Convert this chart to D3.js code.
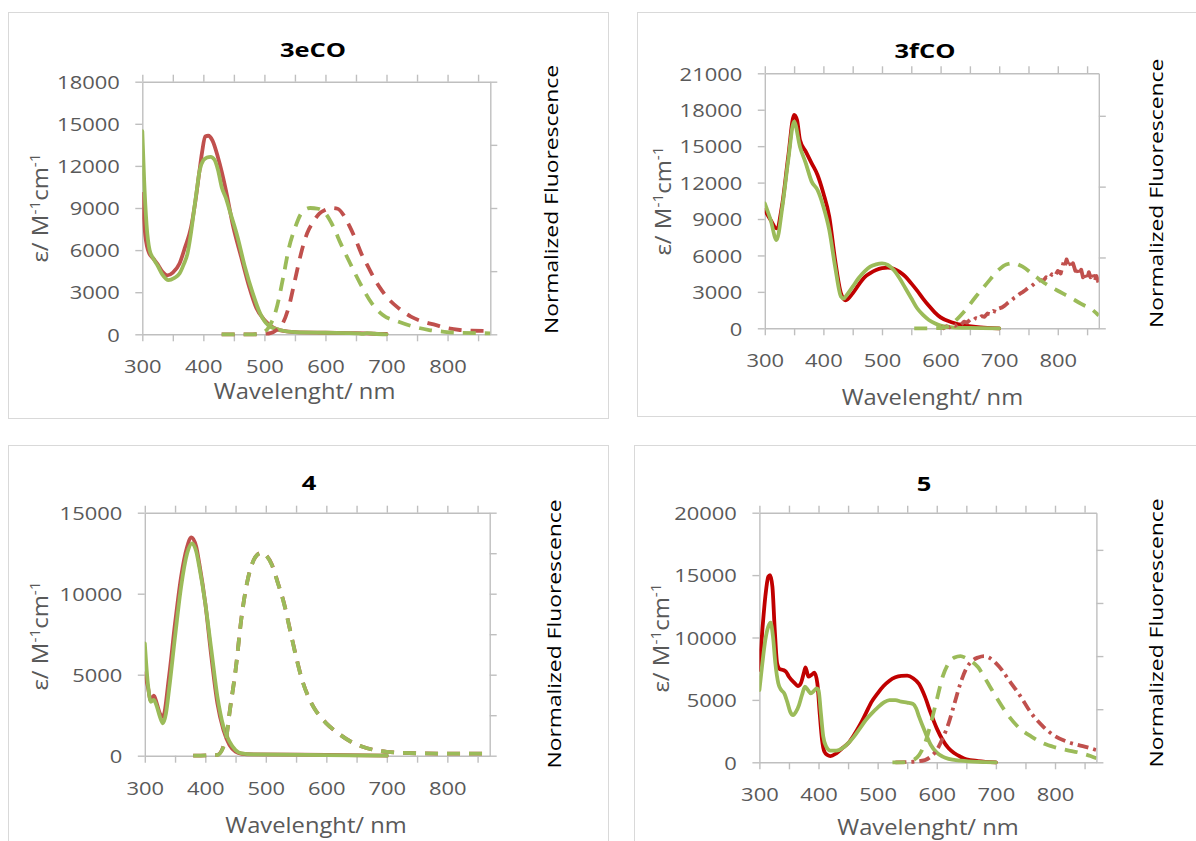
<!DOCTYPE html>
<html>
<head>
<meta charset="utf-8">
<script src="https://cdn.jsdelivr.net/npm/d3@7"></script>
<style>
  html, body { margin: 0; padding: 0; background: #ffffff; }
  svg { display: block; }
  text { font-family: "Open Sans", "Liberation Sans", sans-serif; }
</style>
</head>
<body>
<svg id="chart" width="1196" height="841"></svg>
<script>
// ---------- titles and axis ticks ----------
const panelTitles = ["3eCO", "3fCO", "4", "5"];
const xTickValues = [300, 350, 400, 450, 500, 550, 600, 650, 700, 750, 800, 850];
const xTickLabels = [300, 400, 500, 600, 700, 800];
const yTicks3eCO = [0, 3000, 6000, 9000, 12000, 15000, 18000];
const yTicks3fCO = [0, 3000, 6000, 9000, 12000, 15000, 18000, 21000];
const yTicks4 = [0, 5000, 10000, 15000];
const yTicks5 = [0, 5000, 10000, 15000, 20000];
const flTicks3eCO = [0, 0.5, 1, 1.5, 2];
const flTicks3fCO = [0, 1, 2, 3];
const flTicks4 = [0, 0.2, 0.4, 0.6, 0.8, 1, 1.2];
const flTicks5 = [0, 0.5, 1, 1.5, 2];

// ---------- 3eCO: absorption (ε) and normalized emission ----------
const absRed3eCO = [[300,10000],[305,7000],[311,5800],[318,5400],[325,5000],[333,4450],[341,4200],[350,4400],[361,5050],[370,6200],[380,7650],[387,9500],[393,11440],[398,13000],[403,14100],[408,14150],[415,13800],[424,12600],[430,11600],[437,10250],[449,7650],[462,5500],[475,3390],[487,1850],[500,1020],[512,550],[531,240],[550,150],[600,110],[650,80],[680,40],[700,20]];
const absGreen3eCO = [[300,14470],[303,11000],[307,7800],[312,6000],[318,5400],[325,4900],[333,4250],[343,3860],[352,4000],[361,4330],[368,5000],[374,5750],[379,7000],[384,8600],[389,10200],[394,11700],[400,12400],[406,12600],[412,12650],[418,12450],[424,11700],[430,10500],[437,9700],[443,8830],[456,6940],[468,4810],[481,2910],[493,1490],[506,660],[525,310],[550,150],[600,110],[640,90],[655,60],[660,30],[668,80],[680,40],[700,0]];
const flRed3eCO = [[430,0],[450,0],[480,0],[500,0.004],[510,0.01],[520,0.034],[530,0.086],[540,0.218],[550,0.428],[560,0.64],[570,0.8],[580,0.89],[590,0.956],[600,0.986],[610,1.0],[620,0.994],[630,0.942],[640,0.85],[650,0.744],[660,0.626],[670,0.534],[680,0.442],[690,0.364],[700,0.298],[720,0.206],[740,0.14],[760,0.1],[780,0.074],[800,0.048],[820,0.034],[840,0.028],[870,0.026]];
const flGreen3eCO = [[430,0],[450,0],[480,0],[495,0.01],[506,0.048],[519,0.19],[531,0.456],[540,0.68],[550,0.84],[562,0.968],[575,1.0],[588,0.994],[600,0.956],[613,0.85],[625,0.718],[638,0.586],[657,0.402],[676,0.244],[694,0.152],[720,0.1],[745,0.06],[770,0.034],[795,0.02],[820,0.012],[870,0.008]];

// ---------- 3fCO ----------
const absRed3fCO = [[300,9745],[310,8920],[320,8235],[330,10290],[340,14140],[350,17570],[355,17150],[360,15510],[370,14550],[380,13590],[390,12630],[400,11120],[410,9200],[420,5630],[430,2880],[438,2300],[450,2880],[460,3570],[470,4200],[480,4550],[490,4800],[500,4950],[510,5000],[520,4900],[530,4650],[540,4250],[550,3700],[560,3100],[570,2450],[580,1850],[590,1320],[600,900],[620,480],[640,240],[660,110],[680,40],[700,0]];
const absGreen3fCO = [[300,10290],[310,8920],[320,7270],[330,10020],[340,13860],[350,17020],[360,14960],[370,13590],[380,12080],[390,11390],[400,10020],[410,8100],[420,5080],[430,2610],[435,2450],[440,2745],[450,3430],[460,4120],[470,4670],[480,5080],[490,5270],[500,5350],[510,5215],[520,4800],[530,4120],[540,3300],[550,2470],[560,1650],[570,1100],[580,690],[590,410],[600,220],[620,80],[650,30],[700,0]];
const flRed3fCO = [[600,0.018],[605,0],[610,0.029],[615,0.014],[620,0.047],[625,0.036],[630,0.072],[635,0.054],[640,0.094],[645,0.079],[650,0.119],[655,0.108],[660,0.144],[665,0.13],[670,0.173],[675,0.162],[680,0.209],[685,0.198],[690,0.245],[695,0.23],[700,0.281],[705,0.295],[710,0.324],[715,0.36],[720,0.389],[725,0.425],[730,0.45],[735,0.486],[740,0.511],[745,0.54],[750,0.576],[755,0.594],[760,0.63],[765,0.648],[770,0.684],[775,0.67],[780,0.72],[785,0.702],[790,0.763],[795,0.738],[800,0.81],[805,0.774],[810,0.936],[812,0.882],[815,0.972],[818,0.9],[820,0.943],[823,0.864],[826,0.918],[830,0.81],[833,0.864],[836,0.756],[840,0.828],[843,0.72],[846,0.774],[850,0.684],[853,0.792],[856,0.72],[860,0.774],[863,0.666],[866,0.738],[870,0.63]];
const flGreen3fCO = [[555,0],[580,0],[600,0.004],[615,0.03],[627,0.12],[640,0.234],[660,0.446],[679,0.634],[699,0.824],[712,0.9],[725,0.918],[740,0.87],[760,0.745],[780,0.625],[800,0.53],[820,0.44],[840,0.345],[860,0.255],[870,0.18]];

// ---------- 4 ----------
const absRed4 = [[300,5080],[305,4260],[310,3400],[315,3700],[320,3200],[325,2600],[330,2400],[340,4880],[350,8170],[360,11050],[370,12900],[377,13480],[385,12900],[390,11870],[400,9400],[410,6110],[420,3230],[430,1585],[440,660],[450,250],[460,120],[480,80],[600,50],[700,0]];
const absGreen4 = [[300,6935],[305,4470],[310,3330],[315,3440],[320,3025],[325,2400],[330,2000],[335,2610],[340,4050],[350,7350],[360,10430],[370,12490],[378,13110],[385,12600],[390,11670],[400,9400],[410,6520],[420,3640],[430,1790],[440,864],[450,350],[460,144],[480,80],[600,40],[700,0]];
const flRed4 = [[380,0],[420,0.004],[430,0.046],[435,0.096],[440,0.212],[450,0.422],[460,0.688],[470,0.868],[480,0.966],[490,1.0],[495,1.002],[500,0.992],[510,0.944],[520,0.853],[530,0.754],[540,0.622],[550,0.49],[560,0.375],[570,0.293],[580,0.235],[590,0.193],[600,0.16],[620,0.11],[640,0.07],[660,0.044],[680,0.028],[700,0.019],[750,0.012],[800,0.01],[870,0.01]];
const flGreen4 = [[380,0],[420,0.004],[430,0.044],[435,0.094],[440,0.21],[450,0.42],[460,0.686],[470,0.868],[480,0.966],[490,1.0],[495,1.002],[500,0.991],[510,0.942],[520,0.851],[530,0.752],[540,0.62],[550,0.488],[560,0.373],[570,0.292],[580,0.234],[590,0.192],[600,0.16],[620,0.11],[640,0.07],[660,0.044],[680,0.028],[700,0.019],[750,0.012],[800,0.01],[870,0.01]];

// ---------- 5 ----------
const absRed5 = [[300,7400],[305,10600],[310,13270],[315,14870],[318,15000],[322,14070],[326,10600],[330,7930],[335,7450],[340,7400],[345,7260],[350,6860],[360,6330],[365,6110],[370,6330],[375,7130],[378,7610],[383,6860],[388,7000],[393,7180],[398,6330],[402,3930],[406,1790],[410,850],[415,590],[420,500],[430,720],[440,1120],[450,1520],[460,2190],[470,2990],[480,3920],[490,4860],[500,5530],[510,6110],[520,6540],[530,6810],[540,6920],[550,6940],[560,6730],[570,6270],[580,5260],[590,3920],[600,2720],[610,1790],[620,1120],[630,720],[640,450],[650,240],[670,100],[700,0]];
const absGreen5 = [[300,5790],[305,7930],[310,9800],[315,10870],[319,11190],[323,10070],[327,7930],[332,6330],[337,5790],[342,5530],[347,4860],[352,4060],[357,3790],[362,4060],[367,4590],[372,5390],[377,6060],[382,5790],[387,5530],[392,5710],[397,5930],[400,5790],[404,3930],[408,2060],[413,1255],[420,935],[430,935],[440,1120],[450,1520],[460,2060],[470,2720],[480,3390],[490,3920],[500,4380],[510,4780],[520,4990],[530,4990],[540,4860],[550,4780],[560,4670],[565,4330],[570,3660],[580,2460],[590,1390],[600,770],[610,450],[620,270],[640,130],[670,30],[700,0]];
const flRed5 = [[530,0],[560,0.005],[580,0.021],[590,0.054],[600,0.115],[610,0.226],[620,0.367],[630,0.555],[640,0.743],[650,0.884],[660,0.956],[670,0.987],[680,1.0],[690,0.98],[700,0.933],[710,0.87],[720,0.79],[740,0.635],[760,0.461],[780,0.336],[800,0.247],[820,0.195],[840,0.162],[855,0.141],[870,0.115]];
const flGreen5 = [[525,0],[540,0],[560,0.021],[570,0.068],[580,0.179],[590,0.367],[600,0.588],[610,0.806],[620,0.933],[630,0.987],[640,1.0],[650,0.98],[660,0.947],[670,0.895],[680,0.806],[690,0.712],[700,0.618],[720,0.447],[740,0.32],[760,0.242],[780,0.179],[800,0.141],[820,0.115],[840,0.092],[860,0.059],[870,0.038]];

// ---------- styling ----------
const RED = "#C0504D", DARK_RED = "#C00000", GREEN = "#9BBB59";
const AXIS_GRAY = "#BFBFBF", LABEL_GRAY = "#595959";
const DASH = "13 9", DASH_DOT = "11 5 3 5";
const LINE_WIDTH = 3.8;

// ---------- panel layout ----------
const panels = [
  { title: panelTitles[0], yTicks: yTicks3eCO, flTicks: flTicks3eCO, flMax: 2,
    frame: [8.5, 12.5, 600, 406], plot: [142.3, 81.7, 490.3, 334.3],
    titlePos: [313, 56.7], xTitlePos: [304.6, 399.3], yTitlePos: [48.3, 208], rTitlePos: [558.3, 199.5],
    series: [
      { d: absRed3eCO, axis: "abs", color: RED },
      { d: absGreen3eCO, axis: "abs", color: GREEN },
      { d: flRed3eCO, axis: "fl", color: RED, dash: DASH },
      { d: flGreen3eCO, axis: "fl", color: GREEN, dash: DASH } ] },
  { title: panelTitles[1], yTicks: yTicks3fCO, flTicks: flTicks3fCO, flMax: 3.6,
    frame: [637.5, 12.5, 600, 404], plot: [764.8, 73.3, 1098.8, 328.3],
    titlePos: [925, 57.5], xTitlePos: [932.4, 405], yTitlePos: [670.9, 201], rTitlePos: [1163, 193.3],
    series: [
      { d: absRed3fCO, axis: "abs", color: DARK_RED },
      { d: absGreen3fCO, axis: "abs", color: GREEN },
      { d: flRed3fCO, axis: "fl", color: RED, dash: DASH_DOT, linear: true },
      { d: flGreen3fCO, axis: "fl", color: GREEN, dash: DASH } ] },
  { title: panelTitles[2], yTicks: yTicks4, flTicks: flTicks4, flMax: 1.2,
    frame: [8.5, 445.5, 600, 420], plot: [144.8, 512.7, 489.7, 755.7],
    titlePos: [309, 490], xTitlePos: [316, 833.3], yTitlePos: [47.9, 636], rTitlePos: [561, 634],
    series: [
      { d: absRed4, axis: "abs", color: RED },
      { d: absGreen4, axis: "abs", color: GREEN },
      { d: flRed4, axis: "fl", color: RED, dash: DASH },
      { d: flGreen4, axis: "fl", color: GREEN, dash: DASH } ] },
  { title: panelTitles[3], yTicks: yTicks5, flTicks: flTicks5, flMax: 2.35,
    frame: [634.5, 445.5, 600, 420], plot: [759.4, 512.7, 1096.4, 762.3],
    titlePos: [924, 490.7], xTitlePos: [928, 835], yTitlePos: [669, 638], rTitlePos: [1163, 633],
    series: [
      { d: absRed5, axis: "abs", color: DARK_RED },
      { d: absGreen5, axis: "abs", color: GREEN },
      { d: flRed5, axis: "fl", color: RED, dash: DASH_DOT },
      { d: flGreen5, axis: "fl", color: GREEN, dash: DASH } ] }
];

const svg = d3.select("#chart");

// text helper: horizontally stretched glyphs, optional rotation
function label(g, x, y, txt, o) {
  const t = g.append("text")
    .attr("transform", `translate(${x},${y}) rotate(${o.rot || 0}) scale(${o.sx || 1},1)`)
    .attr("text-anchor", o.anchor || "middle")
    .attr("font-size", o.size)
    .attr("font-weight", o.bold ? "bold" : "normal")
    .attr("fill", o.fill || LABEL_GRAY);
  if (txt !== null) t.text(txt);
  return t;
}

panels.forEach((p, i) => {
  const g = svg.append("g");
  const [fx, fy, fw, fh] = p.frame;
  g.append("rect").attr("x", fx).attr("y", fy).attr("width", fw).attr("height", fh)
    .attr("fill", "#fff").attr("stroke", "#D9D9D9").attr("stroke-width", 1);

  const [L, T, R, B] = p.plot;
  const x = d3.scaleLinear().domain([300, 870]).range([L, R]);
  const yMax = p.yTicks[p.yTicks.length - 1];
  const y = d3.scaleLinear().domain([0, yMax]).range([B, T]);
  const yFl = d3.scaleLinear().domain([0, p.flMax]).range([B, T]);

  const styleAxis = sel => {
    sel.selectAll("path.domain").attr("stroke", AXIS_GRAY).attr("stroke-width", 1.4);
    sel.selectAll(".tick line").attr("stroke", AXIS_GRAY).attr("stroke-width", 1.4);
  };

  // bottom axis
  const bottom = g.append("g").attr("transform", `translate(0,${B})`)
    .call(d3.axisBottom(x).tickValues(xTickValues).tickSize(7).tickSizeOuter(0)
      .tickFormat(v => xTickLabels.includes(v) ? String(v) : ""));
  styleAxis(bottom);
  bottom.selectAll(".tick text")
    .attr("y", 39).attr("dy", 0).attr("transform", "scale(1.18,1)")
    .attr("font-family", "Open Sans").attr("font-size", 18.6).attr("fill", LABEL_GRAY);

  // top axis (secondary x, tick marks only)
  const top = g.append("g").attr("transform", `translate(0,${T})`)
    .call(d3.axisTop(x).tickValues(xTickValues).tickSize(7).tickSizeOuter(0).tickFormat(""));
  styleAxis(top);

  // left axis
  const left = g.append("g").attr("transform", `translate(${L},0)`)
    .call(d3.axisLeft(y).tickValues(p.yTicks).tickSize(7).tickSizeOuter(0).tickFormat(d3.format("d")));
  styleAxis(left);
  left.selectAll(".tick text")
    .attr("x", -22.5 / 1.18).attr("dy", "0.36em").attr("transform", "scale(1.18,1)")
    .attr("font-family", "Open Sans").attr("font-size", 18.6).attr("fill", LABEL_GRAY);

  // right axis (normalized fluorescence, tick marks only)
  const right = g.append("g").attr("transform", `translate(${R},0)`)
    .call(d3.axisRight(yFl).tickValues(p.flTicks).tickSize(7).tickSizeOuter(0).tickFormat(""));
  styleAxis(right);

  // curves
  const clipId = "clip" + i;
  g.append("clipPath").attr("id", clipId).append("rect")
    .attr("x", L).attr("y", T - 10).attr("width", R - L).attr("height", B - T + 14);
  const plotG = g.append("g").attr("clip-path", `url(#${clipId})`);
  p.series.forEach(s => {
    const ys = s.axis === "abs" ? y : yFl;
    const line = d3.line().x(d => x(d[0])).y(d => ys(d[1]))
      .curve(s.linear ? d3.curveLinear : d3.curveMonotoneX);
    plotG.append("path").datum(s.d)
      .attr("d", line)
      .attr("fill", "none")
      .attr("stroke", s.color)
      .attr("stroke-width", LINE_WIDTH)
      .attr("stroke-linejoin", "round")
      .attr("stroke-linecap", s.dash ? "butt" : "round")
      .attr("stroke-dasharray", s.dash || null);
  });

  // titles
  label(g, p.titlePos[0], p.titlePos[1], p.title, { size: 19.6, bold: true, sx: 1.3, fill: "#000" });
  label(g, p.xTitlePos[0], p.xTitlePos[1], "Wavelenght/ nm", { size: 22.4, sx: 1.06 });
  const yt = label(g, p.yTitlePos[0], p.yTitlePos[1], null, { size: 21.8, sx: 1.1, rot: -90 });
  yt.append("tspan").text("ε/ M");
  yt.append("tspan").attr("font-size", 14).attr("dy", -8).text("-1");
  yt.append("tspan").attr("dy", 8).text("cm");
  yt.append("tspan").attr("font-size", 14).attr("dy", -8).text("-1");
  label(g, p.rTitlePos[0], p.rTitlePos[1], "Normalized Fluorescence", { size: 18.6, sx: 1.23, rot: -90, fill: "#000" });
});
</script>
</body>
</html>
